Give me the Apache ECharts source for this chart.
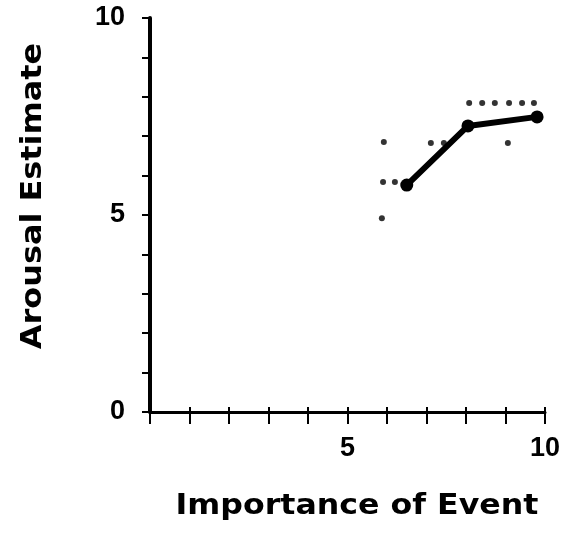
<!DOCTYPE html>
<html>
<head>
<meta charset="utf-8">
<script src="https://cdn.jsdelivr.net/npm/echarts@6/dist/echarts.min.js"></script>
<style>html,body{margin:0;padding:0;background:#fff;}#c{width:580px;height:537px;}</style>
</head>
<body>
<div id="c"></div>
<script>
// Mean line (solid, with markers)
const lineX = [6.5, 8.05, 9.8];
const lineY = [5.76, 7.26, 7.49];
// Small dots
const dotX = [5.92, 5.9, 5.87, 6.2, 7.11, 7.44, 9.06, 8.08, 8.41, 8.73, 9.09, 9.42, 9.72];
const dotY = [6.85, 5.84, 4.92, 5.84, 6.83, 6.83, 6.83, 7.84, 7.84, 7.84, 7.84, 7.84, 7.84];
// Axis labels
const xTickLabels = [5, 10];
const yTickLabels = [0, 5, 10];
const xTitle = 'Importance of Event';
const yTitle = 'Arousal Estimate';

const chart = echarts.init(document.getElementById('c'), null, {renderer: 'canvas'});
const tickFont = {fontFamily: 'Liberation Sans', fontSize: 27, fontWeight: 'bold', color: '#000'};
chart.setOption({
  animation: false,
  backgroundColor: '#fff',
  grid: {left: 150, right: 35, top: 18, bottom: 125},
  xAxis: [{
    type: 'value', min: 0, max: 10, interval: 1,
    axisLine: {lineStyle: {color: '#000', width: 3}},
    axisTick: {show: true, length: 12, lineStyle: {color: '#000', width: 2}},
    splitLine: {show: false},
    axisLabel: Object.assign({margin: 23, showMinLabel: true, showMaxLabel: true,
      formatter: v => xTickLabels.includes(v) ? String(v) : ''}, tickFont)
  }, {
    type: 'value', min: 0, max: 10, interval: 1, position: 'bottom',
    axisLine: {show: false},
    axisTick: {show: true, inside: true, length: 5, lineStyle: {color: '#000', width: 2}},
    splitLine: {show: false},
    axisLabel: {show: false}
  }],
  yAxis: {
    type: 'value', min: 0, max: 10, interval: 1,
    axisLine: {lineStyle: {color: '#000', width: 4}},
    axisTick: {show: true, length: 8, lineStyle: {color: '#000', width: 2}},
    splitLine: {show: false},
    axisLabel: Object.assign({margin: 25,
      formatter: v => yTickLabels.includes(v) ? String(v) : ''}, tickFont)
  },
  graphic: [
    {type: 'text', x: 357, y: 507, scaleX: 1.13,
      style: {text: xTitle, font: 'bold 28px "DejaVu Sans"', fill: '#000', textAlign: 'center', textVerticalAlign: 'middle'}},
    {type: 'text', x: 34, y: 196, rotation: Math.PI / 2, scaleX: 1.14,
      style: {text: yTitle, font: 'bold 28px "DejaVu Sans"', fill: '#000', textAlign: 'center', textVerticalAlign: 'middle'}}
  ],
  series: [
    {
      type: 'scatter', xAxisIndex: 0,
      data: dotX.map((x, i) => [x, dotY[i]]),
      symbol: 'circle', symbolSize: 6,
      itemStyle: {color: '#000'}
    },
    {
      type: 'line', xAxisIndex: 0,
      data: lineX.map((x, i) => [x, lineY[i]]),
      symbol: 'circle', symbolSize: 13,
      lineStyle: {color: '#000', width: 6},
      itemStyle: {color: '#000', borderWidth: 0}
    }
  ]
});
</script>
</body>
</html>
